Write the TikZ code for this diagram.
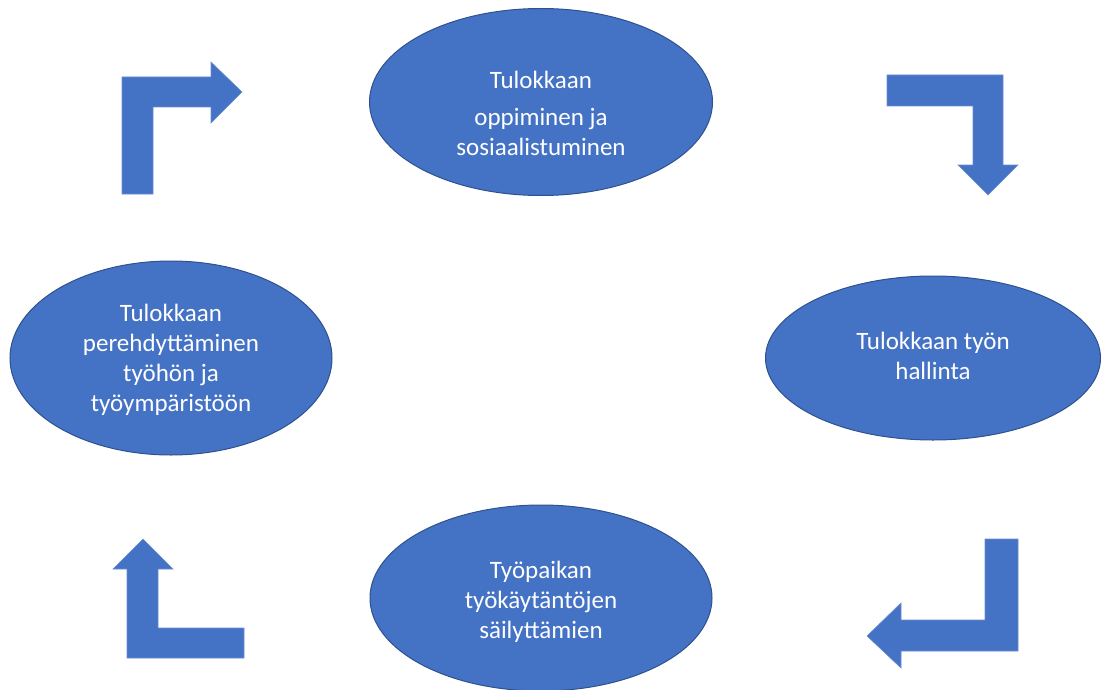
\documentclass[tikz,border=0pt]{standalone}
\usepackage{fontspec}
\setmainfont{Carlito}
\usetikzlibrary{shapes.geometric}
\definecolor{boxblue}{HTML}{4472C4}
\definecolor{edgeblue}{HTML}{2F528F}
\tikzset{
 phase/.style={ellipse, fill=boxblue, draw=edgeblue, line width=1pt, inner sep=0pt},
 phasetext/.style={text=white, align=center, inner sep=0pt, font=\fontsize{25}{30}\selectfont},
 turnarrow/.style={fill=boxblue, draw=boxblue!80!white, line width=0.6pt}
}

\begin{document}
\begin{tikzpicture}[x=1pt, y=-1pt]
\useasboundingbox (0,0) rectangle (1102,690);

% vaiheet
\node[phase, minimum width=343pt, minimum height=187pt] (learn) at (541,102) {};
\node[phase, minimum width=335pt, minimum height=164pt] (manage) at (933,358) {};
\node[phase, minimum width=342pt, minimum height=186pt] (keep) at (541,598) {};
\node[phase, minimum width=322pt, minimum height=194pt] (orient) at (171,358) {};

\node[phasetext] (learnTxt) at ([yshift=-11pt]learn.center) {Tulokkaan\\[7pt]oppiminen ja\\sosiaalistuminen};
\node[phasetext] (manageTxt) at ([yshift=2pt]manage.center) {Tulokkaan työn\\hallinta};
\node[phasetext] (keepTxt) at ([yshift=-4pt]keep.center) {Työpaikan\\työkäytäntöjen\\säilyttämien};
\node[phasetext] (orientTxt) at ([yshift=-2pt]orient.center) {Tulokkaan\\perehdyttäminen\\työhön ja\\työympäristöön};

% kulmanuolet
\draw[turnarrow] (122,194) -- (122,77) -- (211,77) -- (211,62) -- (242,92) -- (211,123) -- (211,107) -- (153,107) -- (153,194) -- cycle;
\draw[turnarrow] (887,75) -- (1003,75) -- (1003,165) -- (1018,165) -- (988,195) -- (958,165) -- (973,165) -- (973,106) -- (887,106) -- cycle;
\draw[turnarrow] (1018,539) -- (1018,651) -- (901,651) -- (901,668) -- (867,636) -- (901,603) -- (901,620) -- (985,620) -- (985,539) -- cycle;
\draw[turnarrow] (244,658) -- (127,658) -- (127,569) -- (113,569) -- (143,539) -- (173,569) -- (158,569) -- (158,628) -- (244,628) -- cycle;
\end{tikzpicture}
\end{document}
